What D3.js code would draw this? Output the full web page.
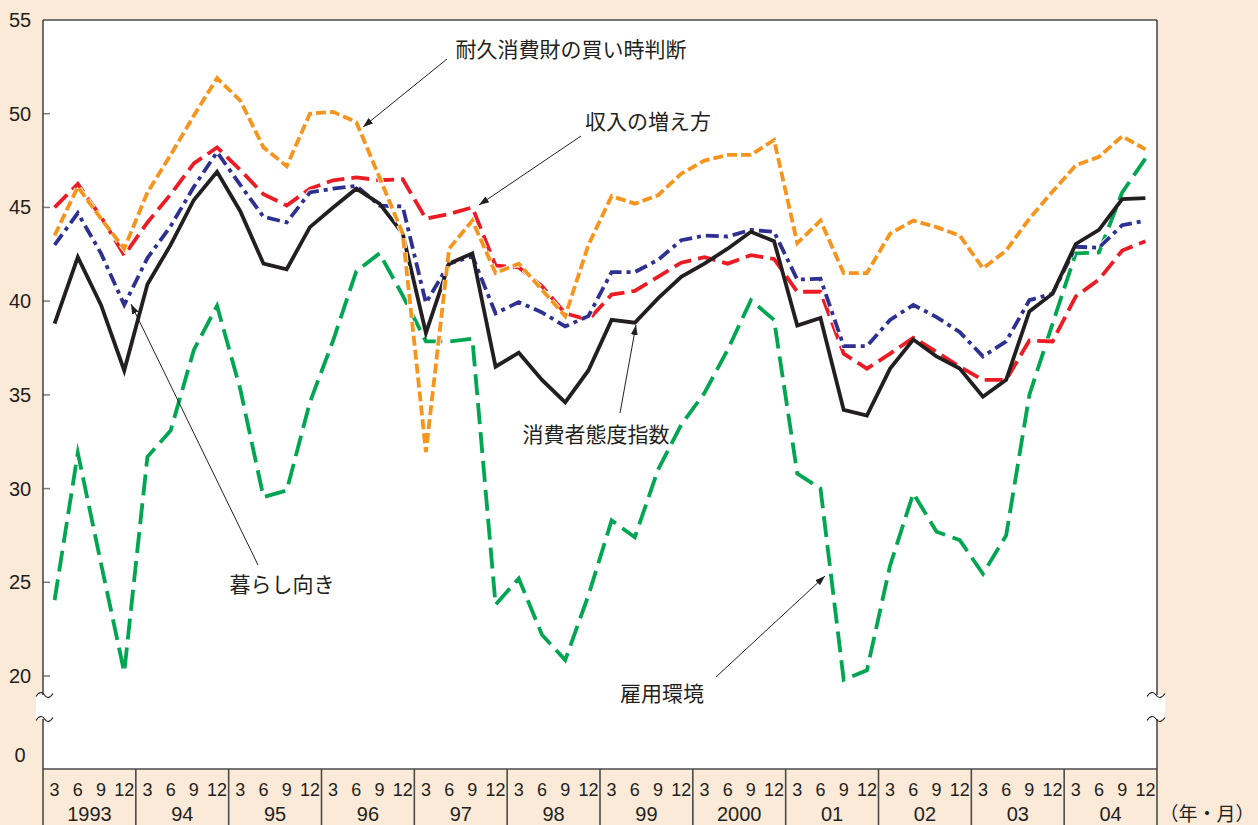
<!DOCTYPE html>
<html lang="ja">
<head>
<meta charset="utf-8">
<script src="https://cdn.jsdelivr.net/npm/d3@7"></script>
<style>
  html, body { margin: 0; padding: 0; background: #fcead8; }
  svg { display: block; }
</style>
</head>
<body>
<svg id="chart" width="1258" height="825"></svg>
<script>
// Quarterly periods: 1993 March ... 2004 December
const years = ["1993", "94", "95", "96", "97", "98", "99", "2000", "01", "02", "03", "04"];
const months = ["3", "6", "9", "12"];
const yTicks = [20, 25, 30, 35, 40, 45, 50, 55];

// 消費者態度指数
const sentimentIndex = [
  38.8, 42.35, 39.8, 36.3, 40.9, 43.0, 45.4, 46.9, 44.8, 42.0, 41.7, 43.95,
  45.0, 46.0, 45.2, 43.6, 38.3, 42.0, 42.55, 36.5, 37.25, 35.8, 34.6, 36.3,
  39.0, 38.85, 40.15, 41.3, 42.0, 42.8, 43.7, 43.2, 38.7, 39.1, 34.2, 33.9,
  36.4, 37.95, 37.05, 36.4, 34.9, 35.8, 39.45, 40.4, 43.05, 43.8, 45.45, 45.5
];
// 耐久消費財の買い時判断
const durablesBuying = [
  43.5, 46.1, 44.4, 42.8, 45.8, 47.8, 49.9, 51.9, 50.7, 48.2, 47.2, 50.0,
  50.1, 49.55, 46.6, 43.6, 31.95, 42.8, 44.3, 41.5, 42.0, 40.6, 39.2, 43.0,
  45.6, 45.2, 45.65, 46.8, 47.5, 47.8, 47.8, 48.6, 43.1, 44.3, 41.5, 41.5,
  43.6, 44.3, 43.95, 43.5, 41.75, 42.7, 44.4, 45.85, 47.25, 47.7, 48.8, 48.1
];
// 収入の増え方
const incomeGrowth = [
  45.0, 46.25, 44.5, 42.45, 44.2, 45.7, 47.35, 48.2, 47.0, 45.7, 45.1, 46.0,
  46.45, 46.6, 46.45, 46.5, 44.4, 44.65, 45.0, 41.9, 41.8, 40.8, 39.35, 39.0,
  40.35, 40.55, 41.3, 42.05, 42.35, 42.0, 42.45, 42.25, 40.5, 40.5, 37.2, 36.4,
  37.2, 38.05, 37.3, 36.5, 35.8, 35.8, 37.9, 37.85, 40.25, 41.15, 42.7, 43.2
];
// 暮らし向き
const livelihood = [
  43.0, 44.7, 42.55, 39.8, 42.3, 44.0, 46.1, 47.95, 46.2, 44.5, 44.2, 45.8,
  46.0, 46.15, 45.1, 45.05, 39.9, 42.0, 42.4, 39.35, 39.95, 39.4, 38.65, 39.2,
  41.55, 41.55, 42.2, 43.25, 43.5, 43.45, 43.8, 43.7, 41.15, 41.2, 37.6, 37.6,
  39.0, 39.8, 39.15, 38.35, 37.05, 37.85, 40.05, 40.4, 42.9, 42.85, 44.05, 44.3
];
// 雇用環境
const employment = [
  24.05, 31.9, 26.0, 20.2, 31.7, 33.1, 37.4, 39.75, 35.3, 29.55, 29.9, 34.6,
  37.9, 41.6, 42.55, 40.3, 37.85, 37.85, 38.0, 23.8, 25.2, 22.2, 20.85, 24.3,
  28.3, 27.4, 31.0, 33.4, 35.1, 37.4, 40.05, 39.0, 30.8, 30.0, 19.8, 20.3,
  25.9, 29.75, 27.7, 27.25, 25.45, 27.5, 35.0, 38.8, 42.55, 42.6, 45.8, 47.6
];

const periods = years.flatMap(y => months.map(m => y + "-" + m));

const series = [
  { name: "雇用環境", values: employment, color: "#00a651", dash: "21 8" },
  { name: "収入の増え方", values: incomeGrowth, color: "#ed1c24", dash: "18 7" },
  { name: "暮らし向き", values: livelihood, color: "#2e3192", dash: "13 5 4 5" },
  { name: "消費者態度指数", values: sentimentIndex, color: "#231f20", dash: null },
  { name: "耐久消費財の買い時判断", values: durablesBuying, color: "#f7941d", dash: "10 4" }
];

const W = 1258, H = 825;
const plot = { left: 43, right: 1157, top: 20, bottom: 769 };
const INK = "#231f20";
const FRAME = "#4a4a4a";
const NUM_FONT = "'Liberation Sans', Arial, Helvetica, sans-serif";
const JP_FONT = "'Noto Sans CJK JP', 'Noto Sans', sans-serif";

const svg = d3.select("#chart");

svg.append("rect").attr("width", W).attr("height", H).attr("fill", "#fcead8");
svg.append("rect")
  .attr("x", plot.left).attr("y", plot.top)
  .attr("width", plot.right - plot.left).attr("height", plot.bottom - plot.top)
  .attr("fill", "#ffffff");

const x = d3.scaleBand().domain(periods).range([plot.left, plot.right]).paddingInner(0).paddingOuter(0);
const xc = p => x(p) + x.bandwidth() / 2;
const yearBand = d3.scaleBand().domain(years).range([plot.left, plot.right]);
const y = d3.scaleLinear().domain([20, 55]).range([676, 20]);

// y ticks (inside the frame) and labels
const yAxis = svg.append("g");
yAxis.selectAll("line.tick").data(yTicks.filter(v => v < 55)).join("line")
  .attr("class", "tick")
  .attr("x1", plot.left).attr("x2", plot.left + 7)
  .attr("y1", d => y(d)).attr("y2", d => y(d))
  .attr("stroke", "#7a7a7a").attr("stroke-width", 1.5);
yAxis.selectAll("text").data(yTicks).join("text")
  .attr("x", 20).attr("y", d => y(d))
  .attr("text-anchor", "middle").attr("dominant-baseline", "central")
  .attr("font-family", NUM_FONT).attr("font-size", 20).attr("fill", INK)
  .text(d => d);
// origin label below the axis break
svg.append("text")
  .attr("x", 20).attr("y", y(20) + 79)
  .attr("text-anchor", "middle").attr("dominant-baseline", "central")
  .attr("font-family", NUM_FONT).attr("font-size", 20).attr("fill", INK)
  .text("0");

// series lines
const line = d3.line().x((d, i) => xc(periods[i])).y(d => y(d));
const lines = svg.append("g");
series.forEach(s => {
  if (s.dash) {
    lines.append("path").datum(s.values)
      .attr("d", line).attr("fill", "none")
      .attr("stroke", "#ffffff").attr("stroke-width", 5.6)
      .attr("stroke-dasharray", s.dash)
      .attr("stroke-linejoin", "miter");
  }
  lines.append("path").datum(s.values)
    .attr("d", line).attr("fill", "none")
    .attr("stroke", s.color).attr("stroke-width", 3.8)
    .attr("stroke-dasharray", s.dash)
    .attr("stroke-linejoin", "miter")
    .attr("stroke-miterlimit", 6);
});

// frame
const frame = svg.append("g").attr("stroke", FRAME).attr("stroke-width", 1.6).attr("fill", "none");
frame.append("line").attr("x1", plot.left).attr("x2", plot.right).attr("y1", plot.top).attr("y2", plot.top);
frame.append("line").attr("x1", plot.left).attr("x2", plot.right).attr("y1", plot.bottom).attr("y2", plot.bottom);
frame.append("line").attr("x1", plot.left).attr("x2", plot.left).attr("y1", plot.top).attr("y2", H);
frame.append("line").attr("x1", plot.right).attr("x2", plot.right).attr("y1", plot.top).attr("y2", H);
frame.selectAll("line.sep").data(years.slice(1)).join("line")
  .attr("class", "sep")
  .attr("x1", d => yearBand(d)).attr("x2", d => yearBand(d))
  .attr("y1", plot.bottom).attr("y2", H);

// axis break marks on both vertical edges
function axisBreak(x0, x1) {
  const top = 695, bot = 719;
  svg.append("rect").attr("x", x0).attr("y", top).attr("width", x1 - x0).attr("height", bot - top)
    .attr("fill", "#ffffff");
  [top, bot].forEach(yy => {
    const w = x1 - x0;
    svg.append("path")
      .attr("d", `M${x0},${yy + 1.5} C${x0 + w * 0.2},${yy - 4} ${x0 + w * 0.4},${yy - 3} ${x0 + w * 0.5},${yy} S${x0 + w * 0.8},${yy + 4} ${x1},${yy - 1.5}`)
      .attr("fill", "none").attr("stroke", "#231f20").attr("stroke-width", 1.1);
  });
}
axisBreak(36, 53);
axisBreak(1147, 1165);

// x axis: months and years
const xAxis = svg.append("g").attr("font-family", NUM_FONT).attr("fill", INK);
xAxis.selectAll("text.m").data(periods).join("text")
  .attr("class", "m")
  .attr("x", d => xc(d)).attr("y", 790)
  .attr("text-anchor", "middle").attr("dominant-baseline", "central")
  .attr("font-size", 18)
  .text(d => d.split("-")[1]);
xAxis.selectAll("text.yr").data(years).join("text")
  .attr("class", "yr")
  .attr("x", d => yearBand(d) + yearBand.bandwidth() / 2).attr("y", 814)
  .attr("text-anchor", "middle").attr("dominant-baseline", "central")
  .attr("font-size", 20)
  .text(d => d);
svg.append("text")
  .attr("x", 1207).attr("y", 812)
  .attr("text-anchor", "middle").attr("dominant-baseline", "central")
  .attr("font-family", JP_FONT).attr("font-size", 19).attr("fill", INK)
  .text("（年・月）");

// annotations
const defs = svg.append("defs");
defs.append("marker")
  .attr("id", "arrow").attr("viewBox", "0 0 10 10")
  .attr("refX", 10).attr("refY", 5)
  .attr("markerWidth", 10).attr("markerHeight", 10)
  .attr("markerUnits", "userSpaceOnUse")
  .attr("orient", "auto")
  .append("path").attr("d", "M0,1.5 L10,5 L0,8.5 Z").attr("fill", INK);

const notes = [
  { text: "耐久消費財の買い時判断", tx: 571, ty: 48, from: [447, 59], to: [363, 127] },
  { text: "収入の増え方", tx: 648, ty: 120, from: [581, 136], to: [479, 205] },
  { text: "消費者態度指数", tx: 596, ty: 433, from: [620, 413], to: [636, 325] },
  { text: "暮らし向き", tx: 282, ty: 583, from: [258, 565], to: [131, 304] },
  { text: "雇用環境", tx: 662, ty: 692, from: [716, 677], to: [825, 576] }
];
const ann = svg.append("g");
notes.forEach(n => {
  ann.append("line")
    .attr("x1", n.from[0]).attr("y1", n.from[1])
    .attr("x2", n.to[0]).attr("y2", n.to[1])
    .attr("stroke", INK).attr("stroke-width", 1)
    .attr("marker-end", "url(#arrow)");
  ann.append("text")
    .attr("x", n.tx).attr("y", n.ty)
    .attr("text-anchor", "middle")
    .attr("dominant-baseline", "central")
    .attr("font-family", JP_FONT).attr("font-size", 21).attr("fill", INK)
    .text(n.text);
});
</script>
</body>
</html>
